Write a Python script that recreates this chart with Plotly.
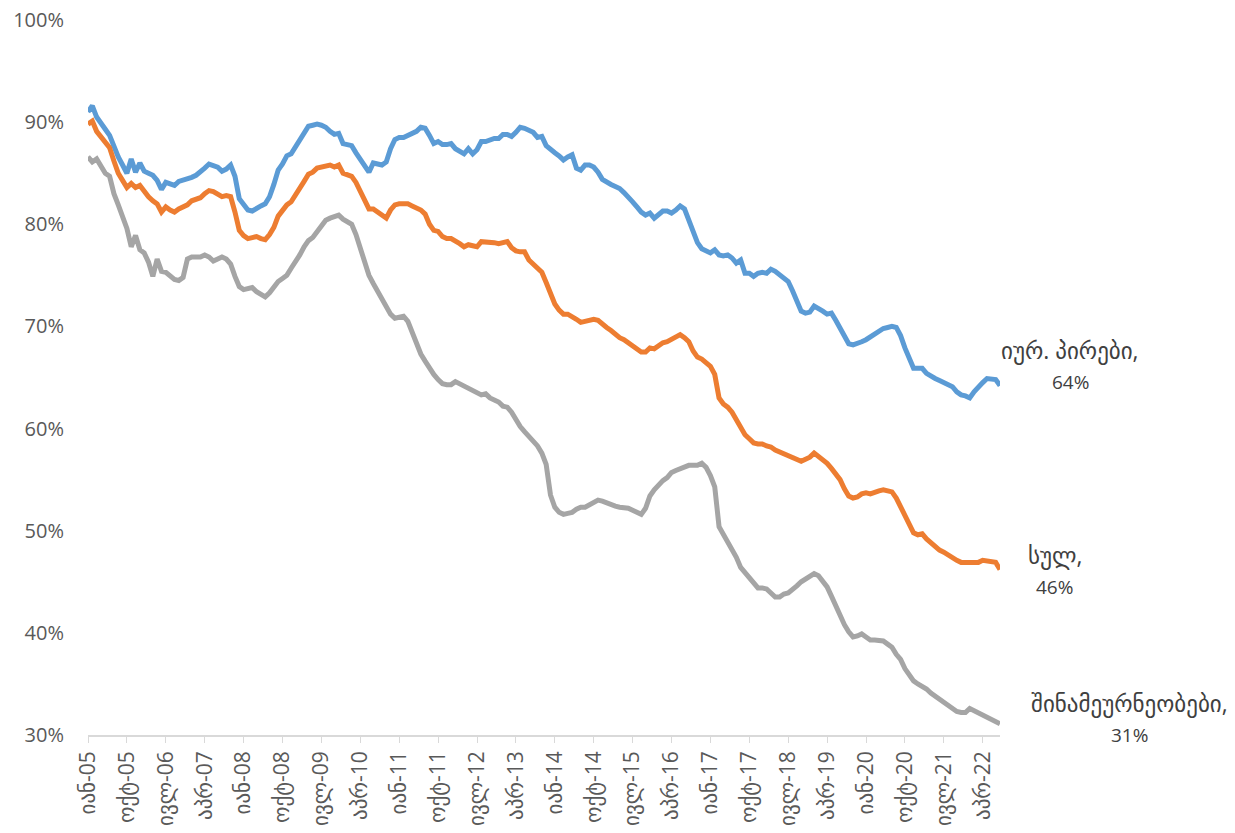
import plotly.graph_objects as go

month_abbr = ["იან", "თებ", "მარ", "აპრ", "მაი", "ივნ", "ივლ", "აგვ", "სექ", "ოქტ", "ნოე", "დეკ"]
n_months = 212
months = [f"{month_abbr[i % 12]}-{(5 + i // 12):02d}" for i in range(n_months)]
tick_labels = months[::9]

legal_entities = [
    91.0, 91.6, 90.5, 89.8, 89.3, 88.7, 87.5, 86.6, 85.8, 85.0, 86.4, 85.1,
    86.0, 85.2, 85.0, 84.8, 84.3, 83.4, 84.1, 83.9, 83.8, 84.2, 84.3, 84.4,
    84.6, 84.8, 85.1, 85.5, 85.9, 85.8, 85.6, 85.2, 85.4, 85.8, 84.7, 82.5,
    81.9, 81.4, 81.3, 81.6, 81.8, 82.0, 82.7, 83.9, 85.3, 85.9, 86.7, 86.9,
    87.6, 88.1, 88.9, 89.6, 89.7, 89.8, 89.7, 89.5, 89.1, 88.8, 88.9, 87.9,
    87.8, 87.7, 87.0, 86.4, 85.8, 85.1, 86.0, 85.9, 85.8, 86.1, 87.4, 88.3,
    88.5, 88.5, 88.7, 88.8, 89.1, 89.5, 89.4, 88.7, 87.9, 88.1, 87.8, 87.8,
    87.9, 87.4, 87.2, 86.9, 87.4, 86.9, 87.3, 88.1, 88.1, 88.3, 88.4, 88.4,
    88.8, 88.8, 88.6, 89.0, 89.5, 89.4, 89.2, 89.0, 88.5, 88.6, 87.7, 87.3,
    87.0, 86.7, 86.3, 86.6, 86.8, 85.5, 85.3, 85.8, 85.8, 85.6, 85.1, 84.4,
    84.1, 83.9, 83.7, 83.5, 83.1, 82.7, 82.2, 81.7, 81.2, 80.9, 81.1, 80.6,
    81.0, 81.3, 81.3, 81.1, 81.4, 81.8, 81.5, 80.3, 79.2, 78.2, 77.6, 77.4,
    77.2, 77.5, 77.0, 76.9, 77.0, 76.7, 76.2, 76.5, 75.2, 75.2, 74.9, 75.2,
    75.3, 75.2, 75.6, 75.4, 75.1, 74.8, 74.4, 73.5, 72.4, 71.5, 71.3, 71.4,
    72.0, 71.8, 71.5, 71.2, 71.3, 70.6, 69.8, 69.0, 68.3, 68.2, 68.3, 68.5,
    68.7, 69.0, 69.3, 69.5, 69.8, 69.9, 70.0, 69.9, 69.1, 67.9, 66.9, 65.9,
    65.9, 65.9, 65.4, 65.1, 64.9, 64.7, 64.5, 64.4, 64.1, 63.6, 63.3, 63.2,
    63.0, 63.6, 64.1, 64.5, 64.9, 64.8, 64.8, 64.2,
]

total = [
    89.8, 90.1, 89.1, 88.6, 88.1, 87.5, 86.2, 85.0, 84.3, 83.6, 84.0, 83.6,
    83.8, 83.2, 82.7, 82.3, 82.0, 81.2, 81.7, 81.4, 81.2, 81.5, 81.7, 81.9,
    82.3, 82.4, 82.6, 83.0, 83.3, 83.2, 82.9, 82.7, 82.8, 82.7, 81.2, 79.4,
    78.9, 78.6, 78.7, 78.8, 78.6, 78.5, 79.0, 79.7, 80.8, 81.4, 81.9, 82.2,
    82.8, 83.4, 84.2, 84.9, 85.1, 85.5, 85.6, 85.8, 85.8, 85.6, 85.8, 85.0,
    84.8, 84.7, 84.1, 83.3, 82.3, 81.5, 81.5, 81.2, 80.9, 80.6, 81.4, 81.9,
    82.0, 82.0, 82.0, 81.8, 81.6, 81.4, 81.0, 80.0, 79.4, 79.3, 78.8, 78.6,
    78.6, 78.4, 78.1, 77.8, 78.0, 77.9, 77.8, 78.3, 78.3, 78.3, 78.2, 78.1,
    78.2, 78.3, 77.7, 77.4, 77.3, 77.3, 76.5, 76.1, 75.7, 75.3, 74.3, 73.2,
    72.2, 71.6, 71.2, 71.2, 71.0, 70.7, 70.4, 70.5, 70.7, 70.7, 70.6, 70.2,
    69.9, 69.6, 69.2, 68.9, 68.7, 68.4, 68.0, 67.7, 67.5, 67.5, 67.9, 67.8,
    68.1, 68.4, 68.5, 68.7, 69.0, 69.2, 68.9, 68.5, 67.6, 67.0, 66.8, 66.5,
    66.1, 65.3, 63.0, 62.4, 62.1, 61.6, 60.9, 60.3, 59.4, 59.0, 58.6, 58.5,
    58.5, 58.3, 58.2, 57.9, 57.7, 57.5, 57.3, 57.1, 56.9, 56.8, 57.0, 57.2,
    57.6, 57.3, 57.0, 56.6, 56.1, 55.6, 55.0, 54.1, 53.4, 53.2, 53.3, 53.6,
    53.7, 53.6, 53.8, 53.9, 54.0, 53.9, 53.8, 53.2, 52.3, 51.4, 50.5, 49.8,
    49.6, 49.7, 49.2, 48.8, 48.5, 48.1, 47.9, 47.6, 47.4, 47.1, 46.9, 46.9,
    46.9, 47.0, 46.9, 47.1, 47.0, 46.9, 46.9, 46.2,
]

households = [
    86.6, 86.1, 86.4, 85.6, 85.0, 84.7, 83.0, 81.9, 80.6, 79.6, 77.8, 78.9,
    77.5, 77.2, 76.3, 74.9, 76.6, 75.4, 75.3, 74.9, 74.6, 74.5, 74.8, 76.6,
    76.8, 76.8, 76.8, 77.0, 76.8, 76.4, 76.6, 76.8, 76.6, 76.1, 74.9, 73.9,
    73.6, 73.7, 73.8, 73.4, 73.2, 72.9, 73.3, 73.9, 74.4, 74.7, 75.0, 75.7,
    76.3, 77.0, 77.8, 78.4, 78.7, 79.3, 79.9, 80.4, 80.6, 80.7, 80.9, 80.5,
    80.2, 80.0, 79.0, 77.6, 76.1, 75.0, 74.2, 73.4, 72.6, 71.9, 71.2, 70.8,
    70.9, 71.0, 70.5, 69.5, 68.2, 67.3, 66.6, 65.9, 65.3, 64.8, 64.4, 64.3,
    64.3, 64.6, 64.4, 64.2, 63.9, 63.8, 63.6, 63.3, 63.4, 63.0, 62.8, 62.6,
    62.2, 62.1, 61.6, 60.8, 60.2, 59.7, 59.2, 58.7, 58.3, 57.6, 56.5, 53.5,
    52.3, 51.8, 51.6, 51.7, 51.8, 52.1, 52.3, 52.3, 52.5, 52.7, 53.0, 52.9,
    52.7, 52.5, 52.4, 52.3, 52.3, 52.2, 52.0, 51.8, 51.6, 52.2, 53.4, 54.0,
    54.5, 54.9, 55.2, 55.7, 55.9, 56.1, 56.3, 56.4, 56.4, 56.4, 56.6, 56.2,
    55.4, 54.3, 50.4, 49.7, 48.8, 48.1, 47.4, 46.4, 45.9, 45.5, 45.0, 44.4,
    44.4, 44.3, 43.9, 43.5, 43.5, 43.8, 43.9, 44.2, 44.6, 45.0, 45.3, 45.6,
    45.8, 45.6, 45.0, 44.5, 43.6, 42.6, 41.7, 40.8, 40.1, 39.6, 39.7, 39.9,
    39.6, 39.3, 39.3, 39.3, 39.2, 38.9, 38.6, 37.9, 37.4, 36.5, 35.8, 35.3,
    35.0, 34.8, 34.5, 34.1, 33.8, 33.4, 33.1, 32.8, 32.5, 32.3, 32.2, 32.2,
    32.6, 32.4, 32.2, 31.9, 31.7, 31.5, 31.4, 31.1,
]

series = [
    ("იურ. პირები", legal_entities, "#5B9BD5"),
    ("სულ", total, "#ED7D31"),
    ("შინამეურნეობები", households, "#A5A5A5"),
]

FONT = "Open Sans, DejaVu Sans, sans-serif"

fig = go.Figure()
for name, vals, color in series:
    fig.add_trace(go.Scatter(
        x=months, y=vals, mode="lines", name=name,
        line=dict(color=color, width=5),
        hoverinfo="skip",
    ))

# end labels: name line and value line, positioned separately
labels = [
    ("იურ. პირები,", legal_entities[-1], 1.0768, 67.69, 64.56),
    ("სულ,", total[-1], 1.0603, 47.62, 44.49),
    ("შინამეურნეობები,", households[-1], 1.1425, 33.13, 30.0),
]
for text, val, xp, y1, y2 in labels:
    fig.add_annotation(
        x=xp, xref="paper", y=y1, yref="y",
        text=text, showarrow=False, xanchor="center", yanchor="middle",
        font=dict(family=FONT, size=23, color="#404040"),
    )
    fig.add_annotation(
        x=xp, xref="paper", y=y2, yref="y",
        text=f"{round(val):.0f}%", showarrow=False, xanchor="center", yanchor="middle",
        font=dict(family=FONT, size=19, color="#404040"),
    )

fig.update_layout(
    width=1235, height=833,
    margin=dict(l=88, r=235, t=20, b=98),
    paper_bgcolor="white", plot_bgcolor="white",
    showlegend=False,
    font=dict(family=FONT, size=18, color="#595959"),
)
fig.update_xaxes(
    type="category", automargin=False,
    categoryorder="array", categoryarray=months,
    range=[0, n_months - 1],
    tickmode="array", tickvals=tick_labels, ticktext=tick_labels,
    tickangle=-90,
    showline=True, linecolor="#D9D9D9", linewidth=1.5,
    ticks="outside", ticklen=6, tickcolor="#D9D9D9",
    showgrid=False, zeroline=False,
    tickfont=dict(family=FONT, size=21, color="#595959"),
)
fig.update_yaxes(
    automargin=False,
    range=[30, 100],
    tickvals=[30, 40, 50, 60, 70, 80, 90, 100],
    ticktext=["30%", "40%", "50%", "60%", "70%", "80%", "90%", "100%"],
    showgrid=False, zeroline=False, showline=False,
    ticks="", ticklabelstandoff=23,
    tickfont=dict(family=FONT, size=20, color="#595959"),
)

fig.write_html("out.html")
